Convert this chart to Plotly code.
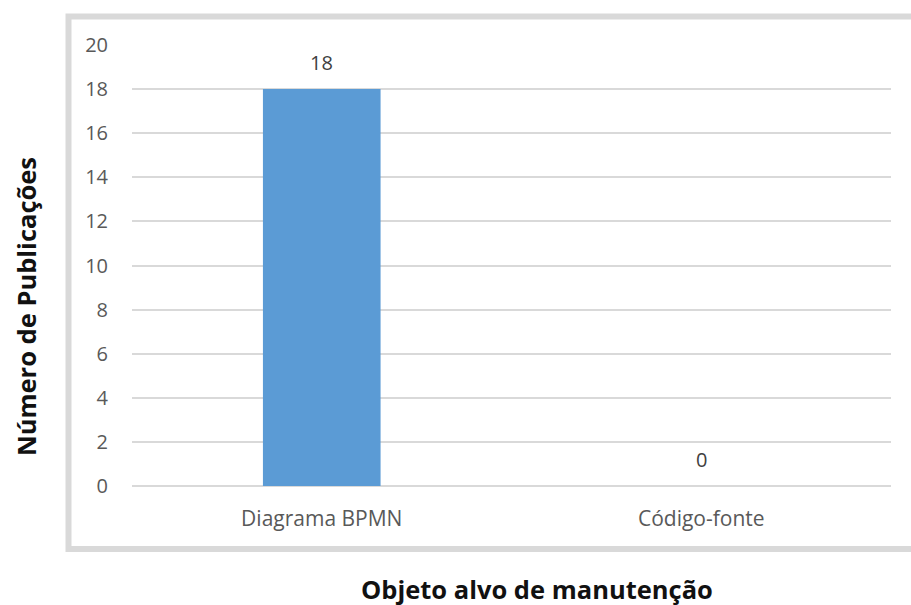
import plotly.graph_objects as go

categorias = ["Diagrama BPMN", "Código-fonte"]
publicacoes = [18, 0]
y_ticks = list(range(0, 21, 2))

W, H = 911, 605
L, R, T, B = 132, 20, 45, 119
pw = W - L - R
ph = H - T - B
FONT = "Open Sans, sans-serif"


def px_x(x):
    return (x - L) / pw


def px_y(y):
    return (H - B - y) / ph


fig = go.Figure(
    go.Bar(
        x=categorias,
        y=publicacoes,
        marker=dict(color="#5b9bd5", line=dict(width=0)),
        hoverinfo="x+y",
    )
)

# value labels above each bar
value_labels = [
    dict(
        x=c,
        y=v,
        xref="x",
        yref="y",
        text=str(v),
        showarrow=False,
        yshift=27,
        font=dict(family=FONT, size=20, color="#404040"),
    )
    for c, v in zip(categorias, publicacoes)
]

fig.update_layout(
    width=W,
    height=H,
    margin=dict(l=L, r=R, t=T, b=B, pad=0),
    paper_bgcolor="white",
    plot_bgcolor="white",
    bargap=0.69,
    showlegend=False,
    font=dict(family=FONT, color="#595959"),
    shapes=[
        dict(
            type="rect",
            xref="paper",
            yref="paper",
            x0=px_x(68.5),
            x1=px_x(918),
            y0=px_y(549),
            y1=px_y(16.5),
            line=dict(color="#d9d9d9", width=6),
            fillcolor="rgba(0,0,0,0)",
            layer="below",
        )
    ],
    annotations=value_labels
    + [
        dict(
            text="<b>Objeto alvo de manutenção</b>",
            xref="paper",
            yref="paper",
            x=px_x(537),
            y=px_y(589),
            xanchor="center",
            yanchor="middle",
            showarrow=False,
            font=dict(family=FONT, size=25.5, color="#111111"),
        ),
        dict(
            text="<b>Número de Publicações</b>",
            xref="paper",
            yref="paper",
            x=px_x(26),
            y=px_y(307),
            xanchor="center",
            yanchor="middle",
            textangle=-90,
            showarrow=False,
            font=dict(family=FONT, size=25.5, color="#111111"),
        ),
    ],
)

fig.update_xaxes(
    showline=False,
    showgrid=False,
    ticks="",
    tickfont=dict(family=FONT, size=21, color="#595959"),
    ticklabelstandoff=18,
)
fig.update_yaxes(
    range=[0, 20],
    tickvals=y_ticks,
    showgrid=True,
    gridcolor="#d9d9d9",
    gridwidth=1.5,
    zeroline=True,
    zerolinecolor="#d9d9d9",
    zerolinewidth=1.5,
    showline=False,
    ticks="",
    tickfont=dict(family=FONT, size=20, color="#595959"),
    ticklabelstandoff=23,
)

fig.write_html("out.html")
